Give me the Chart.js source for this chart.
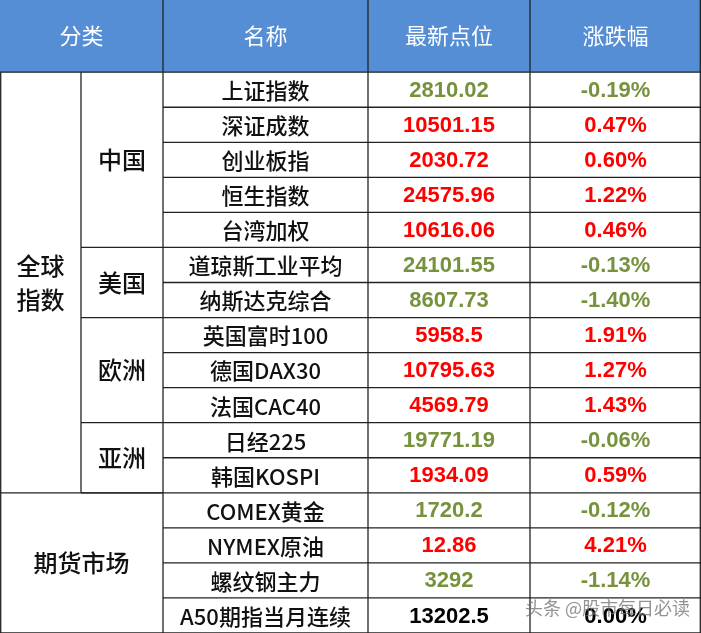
<!DOCTYPE html>
<html><head><meta charset="utf-8">
<script src="https://cdn.jsdelivr.net/npm/chart.js@4/dist/chart.umd.min.js"></script>
<style>html,body{margin:0;padding:0;background:#fff}#w{width:701px;height:633px}</style>
</head><body><div id="w"><canvas id="c"></canvas></div>
<script>
const headers = ['分类','名称','最新点位','涨跌幅'];
const names = ['上证指数','深证成数','创业板指','恒生指数','台湾加权','道琼斯工业平均','纳斯达克综合','英国富时100','德国DAX30','法国CAC40','日经225','韩国KOSPI','COMEX黄金','NYMEX原油','螺纹钢主力','A50期指当月连续'];
const points = ['2810.02','10501.15','2030.72','24575.96','10616.06','24101.55','8607.73','5958.5','10795.63','4569.79','19771.19','1934.09','1720.2','12.86','3292','13202.5'];
const changes = [-0.19,0.47,0.60,1.22,0.46,-0.13,-1.40,1.91,1.27,1.43,-0.06,0.59,-0.12,4.21,-1.14,0.00];
const groups = [{label:'中国',from:0,to:4},{label:'美国',from:5,to:6},{label:'欧洲',from:7,to:9},{label:'亚洲',from:10,to:11}];
const topGroups = [{label:'全球\n指数',from:0,to:11,span:1},{label:'期货市场',from:12,to:15,span:2}];
const colEdges = [0,81,163,368,530,701];
const watermark = '头条 @股市每日必读';

function colorFor(v,i){ if(i===names.length-1) return '#000'; return v<0?'#76923C':'#FF0000'; }

const tablePlugin = {
  id:'table',
  afterDraw(chart){
    const ctx=chart.ctx, x=chart.scales.x, y=chart.scales.y;
    const X=v=>x.getPixelForValue(v), Y=v=>y.getPixelForValue(v);
    const cx=(a,b)=>(X(colEdges[a])+X(colEdges[b]))/2;
    ctx.save();
    ctx.fillStyle='#558ED5';
    ctx.fillRect(X(0),Y(y.min),X(701)-X(0),Y(0)-Y(y.min));
    ctx.fillStyle='#fff'; ctx.textAlign='center'; ctx.textBaseline='middle';
    ctx.font='22px "Noto Sans CJK SC"';
    const hy=(Y(y.min)+Y(0))/2;
    ctx.fillText(headers[0],cx(0,2),hy);
    ctx.fillText(headers[1],cx(2,3),hy);
    ctx.fillText(headers[2],cx(3,4),hy);
    ctx.fillText(headers[3],cx(4,5),hy);
    ctx.strokeStyle='#222'; ctx.lineWidth=1.3;
    const line=(x1,y1,x2,y2)=>{ctx.beginPath();ctx.moveTo(x1,y1);ctx.lineTo(x2,y2);ctx.stroke();};
    [2,3,4].forEach(c=>line(X(colEdges[c]),Y(y.min),X(colEdges[c]),Y(0)));
    for(let i=0;i<names.length;i++){
      const my=(Y(i)+Y(i+1))/2;
      ctx.fillStyle='#111'; ctx.font='500 22px "Noto Sans CJK SC"';
      ctx.fillText(names[i],cx(2,3),my+1);
      ctx.font='bold 22px "Liberation Sans"';
      ctx.fillStyle=colorFor(changes[i],i);
      ctx.fillText(points[i],cx(3,4),my+1);
      ctx.fillText(changes[i].toFixed(2)+'%',cx(4,5),my+1);
      line(X(colEdges[2]),Y(i+1),X(701),Y(i+1));
    }
    ctx.fillStyle='#111'; ctx.font='500 24px "Noto Sans CJK SC"';
    groups.forEach(g=>{
      line(X(colEdges[1]),Y(g.to+1),X(colEdges[2]),Y(g.to+1));
      ctx.fillText(g.label,cx(1,2),(Y(g.from)+Y(g.to+1))/2);
    });
    topGroups.forEach(g=>{
      line(X(0),Y(g.to+1),X(colEdges[2]),Y(g.to+1));
      const c=(Y(g.from)+Y(g.to+1))/2, xc=cx(0,g.span);
      const parts=g.label.split('\n');
      parts.forEach((p,k)=>ctx.fillText(p,xc,c+(k-(parts.length-1)/2)*34));
    });
    line(X(0)+0.7,Y(0),X(0)+0.7,Y(16));
    line(X(colEdges[1]),Y(0),X(colEdges[1]),Y(topGroups[0].to+1));
    [2,3,4].forEach(c=>line(X(colEdges[c]),Y(0),X(colEdges[c]),Y(16)));
    line(X(701)-0.7,Y(y.min),X(701)-0.7,Y(16));
    line(X(0),Y(0),X(701),Y(0));
    ctx.fillStyle='rgba(110,110,110,0.75)'; ctx.font='18px "Noto Sans CJK SC"'; ctx.textAlign='left';
    ctx.fillText(watermark,525,608);
    ctx.restore();
  }
};

new Chart(document.getElementById('c'),{
  type:'scatter',
  data:{datasets:[{data:[]}]},
  options:{
    responsive:true, maintainAspectRatio:false, animation:false,
    layout:{padding:0},
    plugins:{legend:{display:false},tooltip:{enabled:false}},
    scales:{
      x:{type:'linear',min:0,max:701,display:false,offset:false,grace:0},
      y:{type:'linear',min:-2.06,max:16,reverse:true,display:false,offset:false,grace:0}
    }
  },
  plugins:[tablePlugin]
});
</script></body></html>
